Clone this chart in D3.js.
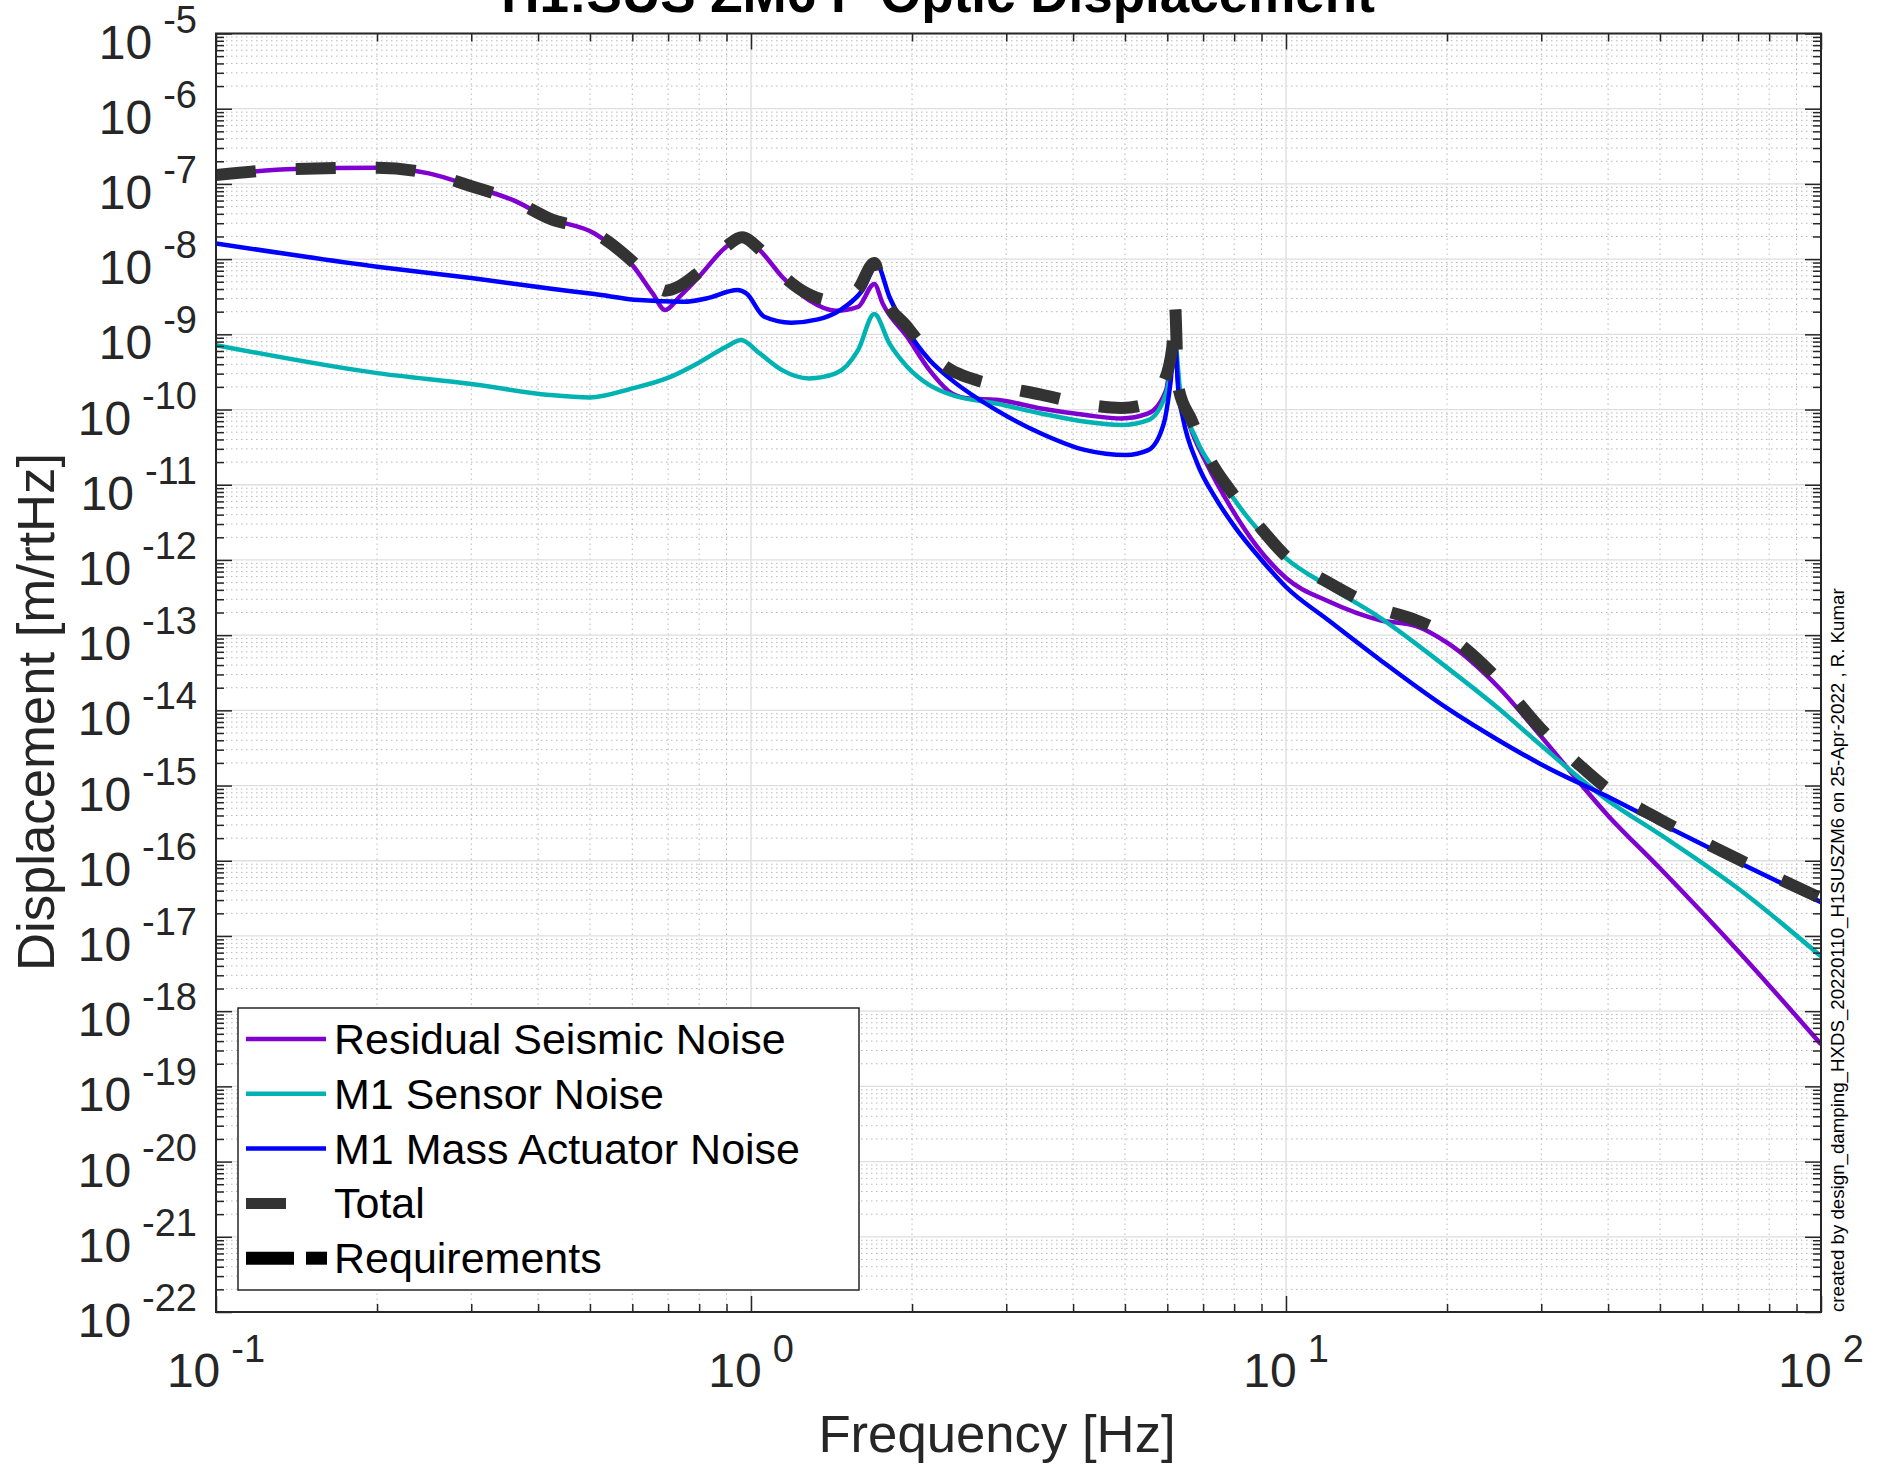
<!DOCTYPE html>
<html><head><meta charset="utf-8">
<script src="https://cdn.jsdelivr.net/npm/d3@7"></script>
<style>
body{margin:0;background:#fff}
svg{display:block}
text{font-family:"Liberation Sans",Arial,Helvetica,sans-serif}
</style></head>
<body><svg id="chart" width="1881" height="1466"></svg>
<script>
// ---------- DATA ----------
const seismicFreq = [0.1,0.14,0.2,0.25,0.3,0.36,0.42,0.51,0.6,0.655,0.691,0.735,0.794,0.899,0.962,1.038,1.143,1.283,1.44,1.585,1.7,1.762,1.958,2.156,2.374,2.563,2.875,3.485,4.224,4.925,5.526,5.97,6.145,6.2,6.29,6.62,7.11,7.86,8.8,10,12,15,17.5,20,25,30,40,50,70,100];
const seismicAsd  = [1.31e-7,1.58e-7,1.64e-7,1.38e-7,9.33e-8,6.03e-8,3.47e-8,2.19e-8,8.34e-9,3.50e-9,2.10e-9,3.16e-9,5.53e-9,1.46e-8,1.95e-8,1.32e-8,5.83e-9,2.85e-9,2.06e-9,2.32e-9,4.68e-9,2.58e-9,9.27e-10,3.34e-10,1.64e-10,1.40e-10,1.35e-10,1.03e-10,8.43e-11,7.60e-11,8.87e-11,1.81e-10,6.82e-10,7.94e-10,2.24e-10,5.89e-11,1.90e-11,5.2e-12,1.55e-12,5.75e-13,2.82e-13,1.58e-13,1.32e-13,7.94e-14,2.0e-14,4.47e-15,3.98e-16,7.94e-17,6.31e-18,3.63e-19];

const sensorFreq = [0.1,0.2,0.3,0.42,0.5,0.6,0.707,0.794,0.899,0.958,1.038,1.143,1.283,1.44,1.585,1.7,1.814,1.958,2.156,2.374,2.875,3.485,4.224,4.925,5.526,5.97,6.145,6.2,6.34,6.81,7.42,8.56,10,12,15,20,25,30,40,50,70,100];
const sensorAsd  = [7.19e-10,3.05e-10,2.19e-10,1.56e-10,1.45e-10,1.91e-10,2.72e-10,4.10e-10,6.82e-10,8.38e-10,5.57e-10,3.34e-10,2.59e-10,3.02e-10,6.17e-10,1.86e-9,7.57e-10,3.70e-10,2.11e-10,1.56e-10,1.20e-10,8.87e-11,6.87e-11,6.21e-11,7.23e-11,1.64e-10,5.01e-10,7.94e-10,1.82e-10,3.92e-11,1.41e-11,3.38e-12,1.05e-12,4.47e-13,1.70e-13,3.7e-14,1.05e-14,3.4e-15,6.31e-16,2.24e-16,4.27e-17,5.37e-18];

const actuatorFreq = [0.1,0.2,0.3,0.42,0.51,0.618,0.749,0.825,0.944,0.98,1.059,1.188,1.334,1.468,1.616,1.72,1.814,1.958,2.156,2.374,2.875,3.485,4.224,5.02,5.526,5.91,6.08,6.2,6.29,6.43,6.81,7.42,8.06,9,10,12,15,20,25,30,40,50,70,100];
const actuatorAsd  = [1.62e-8,7.94e-9,5.62e-9,4.07e-9,3.43e-9,2.85e-9,2.71e-9,3.00e-9,3.87e-9,3.50e-9,1.71e-9,1.43e-9,1.58e-9,2.10e-9,3.87e-9,8.32e-9,3.16e-9,1.14e-9,4.54e-10,2.46e-10,9.82e-11,4.81e-11,2.88e-11,2.48e-11,2.88e-11,6.53e-11,2.22e-10,7.94e-10,1.82e-10,7.24e-11,2.0e-11,6.3e-12,2.63e-12,1.0e-12,4.37e-13,1.58e-13,4.68e-14,1.07e-14,3.98e-15,1.91e-15,7.08e-16,3.16e-16,9.55e-17,2.82e-17];

const totalFreq = [0.1,0.14,0.2,0.25,0.3,0.36,0.42,0.51,0.6,0.655,0.691,0.735,0.794,0.899,0.962,1.038,1.143,1.283,1.44,1.585,1.7,1.762,1.958,2.156,2.374,2.563,2.875,3.485,4.224,4.925,5.526,5.9,6.13,6.2,6.29,6.66,7.21,7.86,8.81,10,12,15,17.5,20,25,30,35,40,50,70,100];
const totalAsd  = [1.31e-7,1.58e-7,1.64e-7,1.38e-7,9.33e-8,6.03e-8,3.47e-8,2.24e-8,9.33e-9,5.01e-9,3.80e-9,4.37e-9,6.46e-9,1.48e-8,1.95e-8,1.35e-8,6.17e-9,3.39e-9,2.75e-9,3.98e-9,8.91e-9,3.55e-9,1.26e-9,5.62e-10,3.31e-10,2.63e-10,2.09e-10,1.58e-10,1.17e-10,1.05e-10,1.20e-10,2.24e-10,6.76e-10,2.45e-9,2.0e-10,7.24e-11,2.14e-11,8.51e-12,3.09e-12,1.12e-12,5.01e-13,2.24e-13,1.58e-13,1.0e-13,2.51e-14,5.62e-15,2.0e-15,8.91e-16,3.55e-16,1.05e-16,3.16e-17];

const legendLabels = ["Residual Seismic Noise","M1 Sensor Noise","M1 Mass Actuator Noise","Total","Requirements"];
const xTickValues = [0.1,1,10,100];
const xTickExponents = ["-1","0","1","2"];
const yTickValues = [1e-5,1e-6,1e-7,1e-8,1e-9,1e-10,1e-11,1e-12,1e-13,1e-14,1e-15,1e-16,1e-17,1e-18,1e-19,1e-20,1e-21,1e-22];
const yTickExponents = ["-5","-6","-7","-8","-9","-10","-11","-12","-13","-14","-15","-16","-17","-18","-19","-20","-21","-22"];
const titleText = "H1:SUS ZM6 P Optic Displacement";
const xLabelText = "Frequency [Hz]";
const yLabelText = "Displacement [m/rtHz]";
const stampText = "created by design_damping_HXDS_20220110_H1SUSZM6 on 25-Apr-2022 , R. Kumar";

// ---------- LAYOUT ----------
const L = 216, R = 1821, T = 33.5, B = 1312;
const svg = d3.select("#chart");
const x = d3.scaleLog().domain([0.1, 100]).range([L, R]);
const y = d3.scaleLog().domain([1e-5, 1e-22]).range([T, B]);

const minorX = [];
[0.1, 1, 10].forEach(d => { for (let m = 2; m <= 9; m++) minorX.push(d * m); });
const minorY = [];
yTickValues.slice(1).forEach(d => { for (let m = 2; m <= 9; m++) minorY.push(d * m); });

// grid
const grid = svg.append("g");
grid.selectAll(".mgx").data(minorX).join("line")
  .attr("x1", d => x(d)).attr("x2", d => x(d)).attr("y1", T).attr("y2", B)
  .attr("stroke", "#b8b8b8").attr("stroke-width", 1).attr("stroke-dasharray", "1.5,3.5");
grid.selectAll(".mgy").data(minorY).join("line")
  .attr("y1", d => y(d)).attr("y2", d => y(d)).attr("x1", L).attr("x2", R)
  .attr("stroke", "#b8b8b8").attr("stroke-width", 1).attr("stroke-dasharray", "1.5,3.5");
grid.selectAll(".Mgx").data(xTickValues).join("line")
  .attr("x1", d => x(d)).attr("x2", d => x(d)).attr("y1", T).attr("y2", B)
  .attr("stroke", "#dedede").attr("stroke-width", 1.3);
grid.selectAll(".Mgy").data(yTickValues).join("line")
  .attr("y1", d => y(d)).attr("y2", d => y(d)).attr("x1", L).attr("x2", R)
  .attr("stroke", "#dedede").attr("stroke-width", 1.3);

// curves
svg.append("clipPath").attr("id", "clip").append("rect")
  .attr("x", L).attr("y", T).attr("width", R - L).attr("height", B - T);
const line = d3.line().x(d => x(d[0])).y(d => y(d[1])).curve(d3.curveMonotoneX);
const zip = (f, v) => f.map((d, i) => [d, v[i]]);
const plot = svg.append("g").attr("clip-path", "url(#clip)");
const series = [
  {data: zip(seismicFreq, seismicAsd), color: "#7f00d0", w: 4.5, dash: null},
  {data: zip(sensorFreq, sensorAsd), color: "#00b2b2", w: 4.5, dash: null},
  {data: zip(actuatorFreq, actuatorAsd), color: "#0000ff", w: 4.5, dash: null},
  {data: zip(totalFreq, totalAsd), color: "#333333", w: 12, dash: "40,40"}
];
series.forEach(s => {
  plot.append("path").attr("d", line(s.data)).attr("fill", "none")
    .attr("stroke", s.color).attr("stroke-width", s.w)
    .attr("stroke-dasharray", s.dash).attr("stroke-linejoin", "round");
});

// axes (ticks inward on all sides)
const axCol = "#262626";
function styleAxis(g) {
  g.select(".domain").remove();
  g.selectAll(".tick line").attr("stroke", axCol).attr("stroke-width", 1.5);
  g.selectAll(".tick text").remove();
}
svg.append("g").attr("transform", `translate(${L},0)`).call(d3.axisLeft(y).tickValues(yTickValues).tickSize(-16).tickFormat("")).call(styleAxis);
svg.append("g").attr("transform", `translate(${L},0)`).call(d3.axisLeft(y).tickValues(minorY).tickSize(-8).tickFormat("")).call(styleAxis);
svg.append("g").attr("transform", `translate(${R},0)`).call(d3.axisRight(y).tickValues(yTickValues).tickSize(-16).tickFormat("")).call(styleAxis);
svg.append("g").attr("transform", `translate(${R},0)`).call(d3.axisRight(y).tickValues(minorY).tickSize(-8).tickFormat("")).call(styleAxis);
svg.append("g").attr("transform", `translate(0,${B})`).call(d3.axisBottom(x).tickValues(xTickValues).tickSize(-16).tickFormat("")).call(styleAxis);
svg.append("g").attr("transform", `translate(0,${B})`).call(d3.axisBottom(x).tickValues(minorX).tickSize(-8).tickFormat("")).call(styleAxis);
svg.append("g").attr("transform", `translate(0,${T})`).call(d3.axisTop(x).tickValues(xTickValues).tickSize(-16).tickFormat("")).call(styleAxis);
svg.append("g").attr("transform", `translate(0,${T})`).call(d3.axisTop(x).tickValues(minorX).tickSize(-8).tickFormat("")).call(styleAxis);
svg.append("rect").attr("x", L).attr("y", T).attr("width", R - L).attr("height", B - T)
  .attr("fill", "none").attr("stroke", axCol).attr("stroke-width", 2);

// tick labels
const yl = svg.append("g").attr("fill", axCol);
yTickValues.forEach((v, i) => {
  const t = yl.append("text").attr("x", 197).attr("y", y(v) + 25).attr("text-anchor", "end");
  t.append("tspan").attr("font-size", 48).text("10");
  t.append("tspan").attr("font-size", 38).attr("dx", 11).attr("dy", -26).text(yTickExponents[i]);
});
xTickValues.forEach((v, i) => {
  const t = yl.append("text").attr("x", x(v)).attr("y", 1387).attr("text-anchor", "middle");
  t.append("tspan").attr("font-size", 48).text("10");
  t.append("tspan").attr("font-size", 38).attr("dx", 11).attr("dy", -25).text(xTickExponents[i]);
});

// axis labels and title
svg.append("text").attr("x", 997).attr("y", 1452).attr("text-anchor", "middle")
  .attr("font-size", 52.7).attr("fill", axCol).text(xLabelText);
svg.append("text").attr("transform", "translate(54,712) rotate(-90)").attr("text-anchor", "middle")
  .attr("font-size", 52.7).attr("fill", axCol).text(yLabelText);
svg.append("text").attr("x", 938).attr("y", 12).attr("text-anchor", "middle")
  .attr("font-size", 53).attr("font-weight", "bold").attr("fill", "#000").text(titleText);
svg.append("text").attr("transform", "translate(1844,1312) rotate(-90)").attr("text-anchor", "start")
  .attr("font-size", 18.7).attr("fill", "#000").text(stampText);

// legend
const lg = svg.append("g");
lg.append("rect").attr("x", 238).attr("y", 1008).attr("width", 621).attr("height", 282)
  .attr("fill", "#fff").attr("stroke", axCol).attr("stroke-width", 1.5);
const legendStyle = [
  {color: "#7f00d0", w: 4.5, segs: [[246, 326]]},
  {color: "#00b2b2", w: 4.5, segs: [[246, 326]]},
  {color: "#0000ff", w: 4.5, segs: [[246, 326]]},
  {color: "#333333", w: 11, segs: [[246, 286]]},
  {color: "#000000", w: 13, segs: [[246, 294], [306, 327]]}
];
legendLabels.forEach((lab, i) => {
  const cy = 1039 + i * 54.8;
  legendStyle[i].segs.forEach(s => {
    lg.append("line").attr("x1", s[0]).attr("x2", s[1]).attr("y1", cy).attr("y2", cy)
      .attr("stroke", legendStyle[i].color).attr("stroke-width", legendStyle[i].w);
  });
  lg.append("text").attr("x", 334).attr("y", cy + 15).attr("font-size", 43).attr("fill", "#000").text(lab);
});
</script></body></html>
